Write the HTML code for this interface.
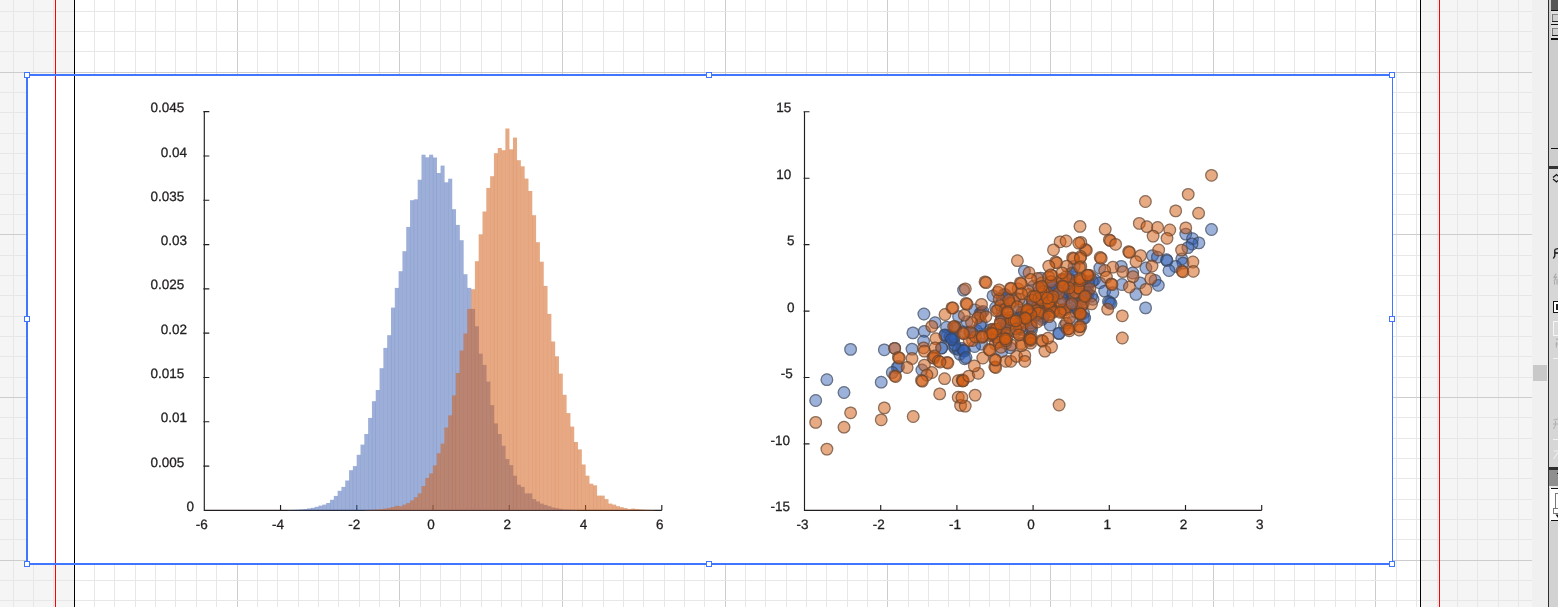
<!DOCTYPE html><html><head><meta charset="utf-8"><title>chart</title><style>
html,body{margin:0;padding:0;background:#fff;}body{width:1558px;height:607px;overflow:hidden;position:relative;font-family:"Liberation Sans",sans-serif;}
svg{position:absolute;left:0;top:0;display:block}text{font-family:"Liberation Sans",sans-serif;font-size:13.5px;fill:#231f20;stroke:#231f20;stroke-width:0.3px;text-rendering:geometricPrecision}
</style></head><body>
<svg width="1558" height="607" viewBox="0 0 1558 607">
<rect x="0" y="0" width="1558" height="607" fill="#ffffff"/>
<rect x="0" y="0" width="74" height="607" fill="#f5f5f5"/>
<rect x="1421" y="0" width="111" height="607" fill="#f5f5f5"/>
<g shape-rendering="crispEdges"><rect x="13" y="0" width="1" height="607" fill="#e7e7e7"/><rect x="33" y="0" width="1" height="607" fill="#e7e7e7"/><rect x="53" y="0" width="1" height="607" fill="#e7e7e7"/><rect x="74" y="0" width="1" height="607" fill="#cdcdcd"/><rect x="94" y="0" width="1" height="607" fill="#e7e7e7"/><rect x="114" y="0" width="1" height="607" fill="#e7e7e7"/><rect x="135" y="0" width="1" height="607" fill="#e7e7e7"/><rect x="155" y="0" width="1" height="607" fill="#e7e7e7"/><rect x="175" y="0" width="1" height="607" fill="#e7e7e7"/><rect x="196" y="0" width="1" height="607" fill="#e7e7e7"/><rect x="216" y="0" width="1" height="607" fill="#e7e7e7"/><rect x="237" y="0" width="1" height="607" fill="#cdcdcd"/><rect x="257" y="0" width="1" height="607" fill="#e7e7e7"/><rect x="277" y="0" width="1" height="607" fill="#e7e7e7"/><rect x="298" y="0" width="1" height="607" fill="#e7e7e7"/><rect x="318" y="0" width="1" height="607" fill="#e7e7e7"/><rect x="338" y="0" width="1" height="607" fill="#e7e7e7"/><rect x="359" y="0" width="1" height="607" fill="#e7e7e7"/><rect x="379" y="0" width="1" height="607" fill="#e7e7e7"/><rect x="399" y="0" width="1" height="607" fill="#cdcdcd"/><rect x="420" y="0" width="1" height="607" fill="#e7e7e7"/><rect x="440" y="0" width="1" height="607" fill="#e7e7e7"/><rect x="460" y="0" width="1" height="607" fill="#e7e7e7"/><rect x="481" y="0" width="1" height="607" fill="#e7e7e7"/><rect x="501" y="0" width="1" height="607" fill="#e7e7e7"/><rect x="521" y="0" width="1" height="607" fill="#e7e7e7"/><rect x="542" y="0" width="1" height="607" fill="#e7e7e7"/><rect x="562" y="0" width="1" height="607" fill="#cdcdcd"/><rect x="582" y="0" width="1" height="607" fill="#e7e7e7"/><rect x="603" y="0" width="1" height="607" fill="#e7e7e7"/><rect x="623" y="0" width="1" height="607" fill="#e7e7e7"/><rect x="643" y="0" width="1" height="607" fill="#e7e7e7"/><rect x="664" y="0" width="1" height="607" fill="#e7e7e7"/><rect x="684" y="0" width="1" height="607" fill="#e7e7e7"/><rect x="704" y="0" width="1" height="607" fill="#e7e7e7"/><rect x="725" y="0" width="1" height="607" fill="#cdcdcd"/><rect x="745" y="0" width="1" height="607" fill="#e7e7e7"/><rect x="765" y="0" width="1" height="607" fill="#e7e7e7"/><rect x="786" y="0" width="1" height="607" fill="#e7e7e7"/><rect x="806" y="0" width="1" height="607" fill="#e7e7e7"/><rect x="826" y="0" width="1" height="607" fill="#e7e7e7"/><rect x="847" y="0" width="1" height="607" fill="#e7e7e7"/><rect x="867" y="0" width="1" height="607" fill="#e7e7e7"/><rect x="887" y="0" width="1" height="607" fill="#cdcdcd"/><rect x="908" y="0" width="1" height="607" fill="#e7e7e7"/><rect x="928" y="0" width="1" height="607" fill="#e7e7e7"/><rect x="948" y="0" width="1" height="607" fill="#e7e7e7"/><rect x="969" y="0" width="1" height="607" fill="#e7e7e7"/><rect x="989" y="0" width="1" height="607" fill="#e7e7e7"/><rect x="1009" y="0" width="1" height="607" fill="#e7e7e7"/><rect x="1030" y="0" width="1" height="607" fill="#e7e7e7"/><rect x="1050" y="0" width="1" height="607" fill="#cdcdcd"/><rect x="1070" y="0" width="1" height="607" fill="#e7e7e7"/><rect x="1091" y="0" width="1" height="607" fill="#e7e7e7"/><rect x="1111" y="0" width="1" height="607" fill="#e7e7e7"/><rect x="1131" y="0" width="1" height="607" fill="#e7e7e7"/><rect x="1152" y="0" width="1" height="607" fill="#e7e7e7"/><rect x="1172" y="0" width="1" height="607" fill="#e7e7e7"/><rect x="1192" y="0" width="1" height="607" fill="#e7e7e7"/><rect x="1213" y="0" width="1" height="607" fill="#cdcdcd"/><rect x="1233" y="0" width="1" height="607" fill="#e7e7e7"/><rect x="1253" y="0" width="1" height="607" fill="#e7e7e7"/><rect x="1274" y="0" width="1" height="607" fill="#e7e7e7"/><rect x="1294" y="0" width="1" height="607" fill="#e7e7e7"/><rect x="1314" y="0" width="1" height="607" fill="#e7e7e7"/><rect x="1335" y="0" width="1" height="607" fill="#e7e7e7"/><rect x="1355" y="0" width="1" height="607" fill="#e7e7e7"/><rect x="1375" y="0" width="1" height="607" fill="#cdcdcd"/><rect x="1396" y="0" width="1" height="607" fill="#e7e7e7"/><rect x="1416" y="0" width="1" height="607" fill="#e7e7e7"/><rect x="1437" y="0" width="1" height="607" fill="#e7e7e7"/><rect x="1457" y="0" width="1" height="607" fill="#e7e7e7"/><rect x="1477" y="0" width="1" height="607" fill="#e7e7e7"/><rect x="1498" y="0" width="1" height="607" fill="#e7e7e7"/><rect x="1518" y="0" width="1" height="607" fill="#e7e7e7"/><rect x="0" y="11" width="1532" height="1" fill="#e7e7e7"/><rect x="0" y="31" width="1532" height="1" fill="#e7e7e7"/><rect x="0" y="51" width="1532" height="1" fill="#e7e7e7"/><rect x="0" y="72" width="1532" height="1" fill="#cdcdcd"/><rect x="0" y="92" width="1532" height="1" fill="#e7e7e7"/><rect x="0" y="112" width="1532" height="1" fill="#e7e7e7"/><rect x="0" y="133" width="1532" height="1" fill="#e7e7e7"/><rect x="0" y="153" width="1532" height="1" fill="#e7e7e7"/><rect x="0" y="173" width="1532" height="1" fill="#e7e7e7"/><rect x="0" y="194" width="1532" height="1" fill="#e7e7e7"/><rect x="0" y="214" width="1532" height="1" fill="#e7e7e7"/><rect x="0" y="234" width="1532" height="1" fill="#cdcdcd"/><rect x="0" y="255" width="1532" height="1" fill="#e7e7e7"/><rect x="0" y="275" width="1532" height="1" fill="#e7e7e7"/><rect x="0" y="295" width="1532" height="1" fill="#e7e7e7"/><rect x="0" y="316" width="1532" height="1" fill="#e7e7e7"/><rect x="0" y="336" width="1532" height="1" fill="#e7e7e7"/><rect x="0" y="356" width="1532" height="1" fill="#e7e7e7"/><rect x="0" y="377" width="1532" height="1" fill="#e7e7e7"/><rect x="0" y="397" width="1532" height="1" fill="#cdcdcd"/><rect x="0" y="417" width="1532" height="1" fill="#e7e7e7"/><rect x="0" y="438" width="1532" height="1" fill="#e7e7e7"/><rect x="0" y="458" width="1532" height="1" fill="#e7e7e7"/><rect x="0" y="478" width="1532" height="1" fill="#e7e7e7"/><rect x="0" y="499" width="1532" height="1" fill="#e7e7e7"/><rect x="0" y="519" width="1532" height="1" fill="#e7e7e7"/><rect x="0" y="539" width="1532" height="1" fill="#e7e7e7"/><rect x="0" y="560" width="1532" height="1" fill="#cdcdcd"/><rect x="0" y="580" width="1532" height="1" fill="#e7e7e7"/><rect x="0" y="600" width="1532" height="1" fill="#e7e7e7"/></g>
<rect x="26" y="74" width="1367" height="491" fill="#ffffff"/>
<g shape-rendering="crispEdges"><rect x="74" y="0" width="1" height="607" fill="#000"/><rect x="1420" y="0" width="1" height="607" fill="#000"/><rect x="55" y="0" width="1" height="607" fill="#ff0000"/><rect x="1439" y="0" width="1" height="607" fill="#ff0000"/></g>
<path d="M204.3 111.65V510.35H661.8" fill="none" stroke="#231f20" stroke-width="1.15"/><path d="M203.4 466.05h5.9M203.4 421.75h5.9M203.4 377.45h5.9M203.4 333.15h5.9M203.4 288.85h5.9M203.4 244.55h5.9M203.4 200.25h5.9M203.4 155.95h5.9M203.4 111.65h5.9M280.55 510.35v-5.3M356.8 510.35v-5.3M433.05 510.35v-5.3M509.3 510.35v-5.3M585.55 510.35v-5.3M661.8 510.35v-5.3" fill="none" stroke="#231f20" stroke-width="1.15"/>
<g fill="rgb(59,95,177)" fill-opacity="0.5"><rect x="288.06" y="510.03" width="4.05" height="0.32"/><rect x="291.87" y="509.9" width="4.05" height="0.45"/><rect x="295.68" y="509.71" width="4.05" height="0.64"/><rect x="299.49" y="509.44" width="4.05" height="0.91"/><rect x="303.31" y="509.07" width="4.05" height="1.28"/><rect x="307.12" y="508.4" width="4.05" height="1.95"/><rect x="310.93" y="507.8" width="4.05" height="2.55"/><rect x="314.74" y="506.8" width="4.05" height="3.55"/><rect x="318.56" y="505.6" width="4.05" height="4.75"/><rect x="322.37" y="504.6" width="4.05" height="5.75"/><rect x="326.18" y="503" width="4.05" height="7.35"/><rect x="329.99" y="499.8" width="4.05" height="10.55"/><rect x="333.81" y="495.9" width="4.05" height="14.45"/><rect x="337.62" y="490.8" width="4.05" height="19.55"/><rect x="341.43" y="486.9" width="4.05" height="23.45"/><rect x="345.24" y="480.5" width="4.05" height="29.85"/><rect x="349.06" y="470.2" width="4.05" height="40.15"/><rect x="352.87" y="466.1" width="4.05" height="44.25"/><rect x="356.68" y="454.8" width="4.05" height="55.55"/><rect x="360.49" y="444.6" width="4.05" height="65.75"/><rect x="364.31" y="434" width="4.05" height="76.35"/><rect x="368.12" y="417.9" width="4.05" height="92.45"/><rect x="371.93" y="401.2" width="4.05" height="109.15"/><rect x="375.74" y="390" width="4.05" height="120.35"/><rect x="379.56" y="368.2" width="4.05" height="142.15"/><rect x="383.37" y="347.9" width="4.05" height="162.45"/><rect x="387.18" y="335.2" width="4.05" height="175.15"/><rect x="390.99" y="307.6" width="4.05" height="202.75"/><rect x="394.81" y="287.9" width="4.05" height="222.45"/><rect x="398.62" y="271.2" width="4.05" height="239.15"/><rect x="402.43" y="251.2" width="4.05" height="259.15"/><rect x="406.24" y="226.9" width="4.05" height="283.45"/><rect x="410.06" y="200.2" width="4.05" height="310.15"/><rect x="413.87" y="199.3" width="4.05" height="311.05"/><rect x="417.68" y="179.7" width="4.05" height="330.65"/><rect x="421.49" y="154.7" width="4.05" height="355.65"/><rect x="425.31" y="157.3" width="4.05" height="353.05"/><rect x="429.12" y="154.7" width="4.05" height="355.65"/><rect x="432.93" y="157.5" width="4.05" height="352.85"/><rect x="436.74" y="173" width="4.05" height="337.35"/><rect x="440.56" y="165.6" width="4.05" height="344.75"/><rect x="444.37" y="182.3" width="4.05" height="328.05"/><rect x="448.18" y="178.7" width="4.05" height="331.65"/><rect x="451.99" y="209.2" width="4.05" height="301.15"/><rect x="455.81" y="224.9" width="4.05" height="285.45"/><rect x="459.62" y="240.2" width="4.05" height="270.15"/><rect x="463.43" y="274.2" width="4.05" height="236.15"/><rect x="467.24" y="287.9" width="4.05" height="222.45"/><rect x="471.06" y="308.9" width="4.05" height="201.45"/><rect x="474.87" y="326.3" width="4.05" height="184.05"/><rect x="478.68" y="353.7" width="4.05" height="156.65"/><rect x="482.49" y="364.9" width="4.05" height="145.45"/><rect x="486.31" y="381.6" width="4.05" height="128.75"/><rect x="490.12" y="405.1" width="4.05" height="105.25"/><rect x="493.93" y="423.4" width="4.05" height="86.95"/><rect x="497.74" y="434" width="4.05" height="76.35"/><rect x="501.56" y="445.8" width="4.05" height="64.55"/><rect x="505.37" y="459" width="4.05" height="51.35"/><rect x="509.18" y="465.1" width="4.05" height="45.25"/><rect x="512.99" y="475.7" width="4.05" height="34.65"/><rect x="516.8" y="484.7" width="4.05" height="25.65"/><rect x="520.62" y="486.9" width="4.05" height="23.45"/><rect x="524.43" y="493.4" width="4.05" height="16.95"/><rect x="528.24" y="493.4" width="4.05" height="16.95"/><rect x="532.05" y="499.1" width="4.05" height="11.25"/><rect x="535.87" y="501.4" width="4.05" height="8.95"/><rect x="539.68" y="503.6" width="4.05" height="6.75"/><rect x="543.49" y="504.9" width="4.05" height="5.45"/><rect x="547.3" y="506.2" width="4.05" height="4.15"/><rect x="551.12" y="507.5" width="4.05" height="2.85"/><rect x="554.93" y="508.2" width="4.05" height="2.15"/><rect x="558.74" y="508.8" width="4.05" height="1.55"/><rect x="562.55" y="509.44" width="4.05" height="0.91"/><rect x="566.37" y="509.7" width="4.05" height="0.65"/><rect x="570.18" y="509.9" width="4.05" height="0.45"/><rect x="573.99" y="510.03" width="4.05" height="0.32"/></g>
<g fill="rgb(210,98,30)" fill-opacity="0.545"><rect x="364.31" y="510.04" width="4.05" height="0.31"/><rect x="368.12" y="509.9" width="4.05" height="0.45"/><rect x="371.93" y="509.71" width="4.05" height="0.64"/><rect x="375.74" y="509.42" width="4.05" height="0.93"/><rect x="379.56" y="509.06" width="4.05" height="1.29"/><rect x="383.37" y="508.53" width="4.05" height="1.82"/><rect x="387.18" y="507.89" width="4.05" height="2.46"/><rect x="390.99" y="507.01" width="4.05" height="3.34"/><rect x="394.81" y="505.74" width="4.05" height="4.61"/><rect x="398.62" y="506.2" width="4.05" height="4.15"/><rect x="402.43" y="504.6" width="4.05" height="5.75"/><rect x="406.24" y="503" width="4.05" height="7.35"/><rect x="410.06" y="500.4" width="4.05" height="9.95"/><rect x="413.87" y="497.2" width="4.05" height="13.15"/><rect x="417.68" y="493.4" width="4.05" height="16.95"/><rect x="421.49" y="486" width="4.05" height="24.35"/><rect x="425.31" y="477.9" width="4.05" height="32.45"/><rect x="429.12" y="473.4" width="4.05" height="36.95"/><rect x="432.93" y="465.4" width="4.05" height="44.95"/><rect x="436.74" y="453.2" width="4.05" height="57.15"/><rect x="440.56" y="443.6" width="4.05" height="66.75"/><rect x="444.37" y="427.5" width="4.05" height="82.85"/><rect x="448.18" y="415.3" width="4.05" height="95.05"/><rect x="451.99" y="395.4" width="4.05" height="114.95"/><rect x="455.81" y="373" width="4.05" height="137.35"/><rect x="459.62" y="350.5" width="4.05" height="159.85"/><rect x="463.43" y="333.5" width="4.05" height="176.85"/><rect x="467.24" y="308.9" width="4.05" height="201.45"/><rect x="471.06" y="289.2" width="4.05" height="221.15"/><rect x="474.87" y="261.2" width="4.05" height="249.15"/><rect x="478.68" y="234.3" width="4.05" height="276.05"/><rect x="482.49" y="211.5" width="4.05" height="298.85"/><rect x="486.31" y="187.9" width="4.05" height="322.45"/><rect x="490.12" y="176.2" width="4.05" height="334.15"/><rect x="493.93" y="153.2" width="4.05" height="357.15"/><rect x="497.74" y="148" width="4.05" height="362.35"/><rect x="501.56" y="150.2" width="4.05" height="360.15"/><rect x="505.37" y="128.5" width="4.05" height="381.85"/><rect x="509.18" y="149.3" width="4.05" height="361.05"/><rect x="512.99" y="137.6" width="4.05" height="372.75"/><rect x="516.8" y="160.2" width="4.05" height="350.15"/><rect x="520.62" y="166.3" width="4.05" height="344.05"/><rect x="524.43" y="178.6" width="4.05" height="331.75"/><rect x="528.24" y="191" width="4.05" height="319.35"/><rect x="532.05" y="215.2" width="4.05" height="295.15"/><rect x="535.87" y="242.2" width="4.05" height="268.15"/><rect x="539.68" y="261.7" width="4.05" height="248.65"/><rect x="543.49" y="285.9" width="4.05" height="224.45"/><rect x="547.3" y="313.9" width="4.05" height="196.45"/><rect x="551.12" y="341.5" width="4.05" height="168.85"/><rect x="554.93" y="356.3" width="4.05" height="154.05"/><rect x="558.74" y="373.6" width="4.05" height="136.75"/><rect x="562.55" y="394.8" width="4.05" height="115.55"/><rect x="566.37" y="413.1" width="4.05" height="97.25"/><rect x="570.18" y="426.6" width="4.05" height="83.75"/><rect x="573.99" y="442" width="4.05" height="68.35"/><rect x="577.8" y="449.4" width="4.05" height="60.95"/><rect x="581.62" y="464.5" width="4.05" height="45.85"/><rect x="585.43" y="475.7" width="4.05" height="34.65"/><rect x="589.24" y="483.7" width="4.05" height="26.65"/><rect x="593.05" y="485.3" width="4.05" height="25.05"/><rect x="596.87" y="495.6" width="4.05" height="14.75"/><rect x="600.68" y="495.6" width="4.05" height="14.75"/><rect x="604.49" y="499.1" width="4.05" height="11.25"/><rect x="608.3" y="503.6" width="4.05" height="6.75"/><rect x="612.12" y="504.6" width="4.05" height="5.75"/><rect x="615.93" y="506.2" width="4.05" height="4.15"/><rect x="619.74" y="507.2" width="4.05" height="3.15"/><rect x="623.55" y="508.1" width="4.05" height="2.25"/><rect x="627.37" y="509.1" width="4.05" height="1.25"/><rect x="631.18" y="508.56" width="4.05" height="1.79"/><rect x="634.99" y="509.04" width="4.05" height="1.31"/><rect x="638.8" y="509.42" width="4.05" height="0.93"/><rect x="642.62" y="509.71" width="4.05" height="0.64"/><rect x="646.43" y="509.9" width="4.05" height="0.45"/><rect x="650.24" y="510.04" width="4.05" height="0.31"/></g>
<g style="mix-blend-mode:multiply"><text x="186.4" y="510.95">0</text><text x="150.5" y="466.65">0.005</text><text x="160.8" y="422.35">0.01</text><text x="150.5" y="378.05">0.015</text><text x="160.8" y="333.75">0.02</text><text x="150.5" y="289.45">0.025</text><text x="160.8" y="245.15">0.03</text><text x="150.5" y="200.85">0.035</text><text x="160.8" y="156.55">0.04</text><text x="150.5" y="112.25">0.045</text><text x="201.7" y="528.6" text-anchor="middle">-6</text><text x="277.95" y="528.6" text-anchor="middle">-4</text><text x="354.2" y="528.6" text-anchor="middle">-2</text><text x="430.95" y="528.6" text-anchor="middle">0</text><text x="507.2" y="528.6" text-anchor="middle">2</text><text x="583.45" y="528.6" text-anchor="middle">4</text><text x="659.7" y="528.6" text-anchor="middle">6</text></g>
<defs><g id="mb"><circle r="6.4" fill="rgb(48,94,180)" fill-opacity="0.48"/><circle r="5.78" fill="none" stroke="#3c3c3c" stroke-opacity="0.55" stroke-width="1.25"/></g></defs><use href="#mb" x="981.18" y="323.15"/><use href="#mb" x="1082.77" y="299.02"/><use href="#mb" x="976.37" y="330.42"/><use href="#mb" x="1059.1" y="286.92"/><use href="#mb" x="981.55" y="344.11"/><use href="#mb" x="1069.53" y="291.16"/><use href="#mb" x="1032.56" y="313.49"/><use href="#mb" x="1001.28" y="335.29"/><use href="#mb" x="1041.59" y="305.05"/><use href="#mb" x="1021.43" y="314.69"/><use href="#mb" x="1049.72" y="295.31"/><use href="#mb" x="1087.43" y="288.27"/><use href="#mb" x="955.28" y="328.08"/><use href="#mb" x="972.22" y="333.2"/><use href="#mb" x="969.74" y="331.87"/><use href="#mb" x="1001.57" y="318.12"/><use href="#mb" x="1075.78" y="311.68"/><use href="#mb" x="1024.03" y="304.63"/><use href="#mb" x="1032.97" y="305.21"/><use href="#mb" x="1041.95" y="319.45"/><use href="#mb" x="1063.02" y="309.66"/><use href="#mb" x="1068.62" y="297.43"/><use href="#mb" x="1080.82" y="300.82"/><use href="#mb" x="1082.94" y="294.04"/><use href="#mb" x="1043.68" y="316"/><use href="#mb" x="1072.37" y="290.25"/><use href="#mb" x="1062.61" y="293.15"/><use href="#mb" x="1050.17" y="301.26"/><use href="#mb" x="1045.55" y="313.05"/><use href="#mb" x="990.77" y="329.58"/><use href="#mb" x="1064.26" y="279.91"/><use href="#mb" x="1081.95" y="279.53"/><use href="#mb" x="1072.8" y="287.19"/><use href="#mb" x="1045.61" y="295.74"/><use href="#mb" x="1005.45" y="294.72"/><use href="#mb" x="1048.42" y="292.25"/><use href="#mb" x="1077.22" y="308.81"/><use href="#mb" x="1045.32" y="296.08"/><use href="#mb" x="1043.02" y="317.54"/><use href="#mb" x="1032.09" y="305.47"/><use href="#mb" x="1088.3" y="281.66"/><use href="#mb" x="1039.94" y="290.35"/><use href="#mb" x="1002.39" y="310.52"/><use href="#mb" x="1088.13" y="294.36"/><use href="#mb" x="955.24" y="348.39"/><use href="#mb" x="1048.07" y="297.96"/><use href="#mb" x="1037.31" y="300.18"/><use href="#mb" x="1030" y="340.83"/><use href="#mb" x="1074.13" y="266.36"/><use href="#mb" x="1083.19" y="303.97"/><use href="#mb" x="1018.34" y="312.18"/><use href="#mb" x="1042.42" y="286.93"/><use href="#mb" x="1033.47" y="286.21"/><use href="#mb" x="1005.86" y="325.32"/><use href="#mb" x="1070.22" y="278.93"/><use href="#mb" x="1067.15" y="294.17"/><use href="#mb" x="953.82" y="346.44"/><use href="#mb" x="1009.26" y="324.87"/><use href="#mb" x="1064.06" y="303.28"/><use href="#mb" x="1073.27" y="294.81"/><use href="#mb" x="1021.98" y="312.22"/><use href="#mb" x="1056.84" y="290.74"/><use href="#mb" x="1015.35" y="318.95"/><use href="#mb" x="974.79" y="309.9"/><use href="#mb" x="1015.31" y="331.63"/><use href="#mb" x="1044.99" y="303.09"/><use href="#mb" x="1001.6" y="351.66"/><use href="#mb" x="963.54" y="331.78"/><use href="#mb" x="963.57" y="290.12"/><use href="#mb" x="1088.44" y="283.34"/><use href="#mb" x="1029.2" y="338.2"/><use href="#mb" x="1031.43" y="330.04"/><use href="#mb" x="1064.51" y="325.89"/><use href="#mb" x="995.66" y="307.48"/><use href="#mb" x="966.99" y="321.76"/><use href="#mb" x="1076.27" y="307.25"/><use href="#mb" x="1005.43" y="328.23"/><use href="#mb" x="982.76" y="335.95"/><use href="#mb" x="1094.47" y="279.76"/><use href="#mb" x="1031.02" y="322.96"/><use href="#mb" x="1031.55" y="326.95"/><use href="#mb" x="955.85" y="327.94"/><use href="#mb" x="1004.33" y="318.76"/><use href="#mb" x="1020.09" y="328.4"/><use href="#mb" x="959.73" y="354.1"/><use href="#mb" x="1036.96" y="306.59"/><use href="#mb" x="1015.49" y="297.93"/><use href="#mb" x="1045.41" y="298.19"/><use href="#mb" x="1093" y="299.33"/><use href="#mb" x="1005.7" y="302.83"/><use href="#mb" x="1052.67" y="290.31"/><use href="#mb" x="1072.18" y="322.49"/><use href="#mb" x="1070.14" y="305.43"/><use href="#mb" x="1002.6" y="325.95"/><use href="#mb" x="1072.38" y="284.99"/><use href="#mb" x="1083.51" y="313.23"/><use href="#mb" x="1010.18" y="347.8"/><use href="#mb" x="1032.55" y="302.45"/><use href="#mb" x="1002.24" y="317.49"/><use href="#mb" x="1047.81" y="292"/><use href="#mb" x="999.61" y="331.96"/><use href="#mb" x="1002.27" y="298.45"/><use href="#mb" x="1087.14" y="292.58"/><use href="#mb" x="1047.54" y="303.36"/><use href="#mb" x="1046.51" y="307.8"/><use href="#mb" x="1021.92" y="329.59"/><use href="#mb" x="1007.83" y="297.8"/><use href="#mb" x="1061.78" y="299.03"/><use href="#mb" x="1027.38" y="311.04"/><use href="#mb" x="1053.39" y="310.92"/><use href="#mb" x="1211.5" y="229.5"/><use href="#mb" x="1185.8" y="234.1"/><use href="#mb" x="1192.5" y="238.7"/><use href="#mb" x="1198.9" y="242.9"/><use href="#mb" x="1192" y="244"/><use href="#mb" x="1187.9" y="247.6"/><use href="#mb" x="1152.5" y="255.6"/><use href="#mb" x="1157.4" y="257.2"/><use href="#mb" x="1166.5" y="259.7"/><use href="#mb" x="1181.8" y="258.8"/><use href="#mb" x="1167" y="260.6"/><use href="#mb" x="1183" y="263.1"/><use href="#mb" x="1175.6" y="266.4"/><use href="#mb" x="1169" y="270.5"/><use href="#mb" x="1145.9" y="268"/><use href="#mb" x="1121.2" y="266.4"/><use href="#mb" x="1099.8" y="268"/><use href="#mb" x="1132.7" y="273"/><use href="#mb" x="1140.1" y="282.8"/><use href="#mb" x="1155" y="280.4"/><use href="#mb" x="1158.3" y="285.3"/><use href="#mb" x="1122" y="284.5"/><use href="#mb" x="1099.8" y="282.8"/><use href="#mb" x="1104.7" y="291.1"/><use href="#mb" x="1112.9" y="292.7"/><use href="#mb" x="1136" y="294.4"/><use href="#mb" x="1109.7" y="302.6"/><use href="#mb" x="1108.5" y="301.5"/><use href="#mb" x="1111" y="303.5"/><use href="#mb" x="1145.6" y="307.9"/><use href="#mb" x="1092.4" y="281.2"/><use href="#mb" x="1091.5" y="296"/><use href="#mb" x="1083.3" y="318.3"/><use href="#mb" x="1024.4" y="271.1"/><use href="#mb" x="1040.8" y="278.1"/><use href="#mb" x="1071.5" y="272.8"/><use href="#mb" x="1052.1" y="284.8"/><use href="#mb" x="1053.5" y="286"/><use href="#mb" x="1069.5" y="279.4"/><use href="#mb" x="923.9" y="314"/><use href="#mb" x="935.1" y="322.7"/><use href="#mb" x="912.9" y="332.9"/><use href="#mb" x="924.4" y="331.3"/><use href="#mb" x="946.6" y="327.2"/><use href="#mb" x="850.6" y="349.4"/><use href="#mb" x="884.3" y="349.8"/><use href="#mb" x="894.7" y="348.3"/><use href="#mb" x="912" y="349.1"/><use href="#mb" x="923.6" y="341.2"/><use href="#mb" x="945" y="335.4"/><use href="#mb" x="946.5" y="336.5"/><use href="#mb" x="952.4" y="338.7"/><use href="#mb" x="953.5" y="340"/><use href="#mb" x="941.7" y="347.8"/><use href="#mb" x="897.2" y="367.5"/><use href="#mb" x="898.5" y="366.5"/><use href="#mb" x="892.3" y="372.5"/><use href="#mb" x="826.9" y="379.7"/><use href="#mb" x="881.2" y="382.2"/><use href="#mb" x="844" y="392.5"/><use href="#mb" x="815.7" y="400.5"/><use href="#mb" x="921.9" y="370"/><use href="#mb" x="958.2" y="349.4"/><use href="#mb" x="1059.1" y="333.6"/><use href="#mb" x="963.1" y="349.8"/><use href="#mb" x="962" y="348.5"/><use href="#mb" x="964.5" y="351"/><use href="#mb" x="963.5" y="350.5"/><use href="#mb" x="964.7" y="358.8"/><use href="#mb" x="966" y="357.5"/><use href="#mb" x="974.6" y="346.5"/><use href="#mb" x="951.5" y="338.2"/><use href="#mb" x="950" y="337"/><use href="#mb" x="944.9" y="334.9"/><use href="#mb" x="954.8" y="344.8"/><use href="#mb" x="941.6" y="348.1"/><use href="#mb" x="1005.9" y="343.2"/><use href="#mb" x="997.7" y="339.9"/><use href="#mb" x="993" y="295.8"/><use href="#mb" x="1004.2" y="294.4"/><use href="#mb" x="981.5" y="312.3"/><use href="#mb" x="980" y="313.5"/><use href="#mb" x="983" y="311.5"/><use href="#mb" x="958.6" y="316.6"/><use href="#mb" x="980.1" y="325.2"/><use href="#mb" x="1036" y="315.2"/><use href="#mb" x="1050.3" y="325.2"/><use href="#mb" x="1058.9" y="333.1"/><use href="#mb" x="1084.7" y="318"/><use href="#mb" x="1071.8" y="273.6"/><use href="#mb" x="1051.7" y="285.1"/><use href="#mb" x="1044.6" y="293.7"/><use href="#mb" x="954.3" y="336.7"/><use href="#mb" x="951.4" y="339.5"/>
<defs><g id="mo"><circle r="6.4" fill="rgb(210,92,18)" fill-opacity="0.52"/><circle r="5.78" fill="none" stroke="#3c3c3c" stroke-opacity="0.55" stroke-width="1.25"/></g></defs><use href="#mo" x="1040.89" y="299.31"/><use href="#mo" x="1004.84" y="334.6"/><use href="#mo" x="995.29" y="343.98"/><use href="#mo" x="1067.35" y="329.13"/><use href="#mo" x="1023.22" y="322.36"/><use href="#mo" x="1009.75" y="317.39"/><use href="#mo" x="1076.43" y="284.08"/><use href="#mo" x="1028.05" y="319.95"/><use href="#mo" x="1028.48" y="294.41"/><use href="#mo" x="1018.37" y="333.71"/><use href="#mo" x="980.37" y="315.6"/><use href="#mo" x="1046.95" y="304.17"/><use href="#mo" x="1062.13" y="279.27"/><use href="#mo" x="998.02" y="309.88"/><use href="#mo" x="1082.85" y="302.49"/><use href="#mo" x="1073.4" y="293.24"/><use href="#mo" x="1018.39" y="323.81"/><use href="#mo" x="1021.04" y="343.51"/><use href="#mo" x="997.57" y="292.23"/><use href="#mo" x="1055.18" y="308.18"/><use href="#mo" x="1069.1" y="280.15"/><use href="#mo" x="1024.27" y="311.37"/><use href="#mo" x="1038.44" y="310.16"/><use href="#mo" x="1040.64" y="313.15"/><use href="#mo" x="999.2" y="299.17"/><use href="#mo" x="1047.14" y="292.85"/><use href="#mo" x="972.55" y="340.56"/><use href="#mo" x="1064.65" y="312.74"/><use href="#mo" x="1075.28" y="292.39"/><use href="#mo" x="1048.76" y="301.53"/><use href="#mo" x="1041.74" y="282.88"/><use href="#mo" x="1018.01" y="288.87"/><use href="#mo" x="1003.57" y="337.61"/><use href="#mo" x="1060.53" y="311.08"/><use href="#mo" x="1019.27" y="299.14"/><use href="#mo" x="1079.58" y="313.23"/><use href="#mo" x="1078.99" y="288.04"/><use href="#mo" x="1010.49" y="323.57"/><use href="#mo" x="989.42" y="333.68"/><use href="#mo" x="1026.26" y="313.1"/><use href="#mo" x="1078.51" y="288.12"/><use href="#mo" x="977.79" y="317.7"/><use href="#mo" x="992.48" y="335.17"/><use href="#mo" x="1028.3" y="315.37"/><use href="#mo" x="995.13" y="330.53"/><use href="#mo" x="1028.2" y="291.04"/><use href="#mo" x="1061.81" y="280.05"/><use href="#mo" x="1066.29" y="323.15"/><use href="#mo" x="1000.43" y="321.59"/><use href="#mo" x="1052.43" y="275.97"/><use href="#mo" x="1051.31" y="301.98"/><use href="#mo" x="1034.9" y="309.82"/><use href="#mo" x="1042.82" y="291.12"/><use href="#mo" x="1020.44" y="327.13"/><use href="#mo" x="1000.79" y="305.32"/><use href="#mo" x="1066.09" y="276.73"/><use href="#mo" x="1033.31" y="296.09"/><use href="#mo" x="993.26" y="330.72"/><use href="#mo" x="1005.41" y="309.14"/><use href="#mo" x="1011.27" y="320.04"/><use href="#mo" x="1048.67" y="276.86"/><use href="#mo" x="1003.19" y="337.92"/><use href="#mo" x="1064.58" y="309.7"/><use href="#mo" x="1050.66" y="307.83"/><use href="#mo" x="1029.37" y="339.35"/><use href="#mo" x="1060.62" y="301.64"/><use href="#mo" x="999.12" y="289.89"/><use href="#mo" x="1048.96" y="305"/><use href="#mo" x="1037.51" y="278.31"/><use href="#mo" x="1032.37" y="300.1"/><use href="#mo" x="1053.11" y="312.24"/><use href="#mo" x="1038.32" y="312.94"/><use href="#mo" x="985.89" y="316.58"/><use href="#mo" x="1058.79" y="293.01"/><use href="#mo" x="1051.92" y="299.34"/><use href="#mo" x="969.16" y="340.51"/><use href="#mo" x="975.37" y="336.82"/><use href="#mo" x="1038.86" y="298.43"/><use href="#mo" x="1041.68" y="300.05"/><use href="#mo" x="989.91" y="335.4"/><use href="#mo" x="1013.89" y="320.84"/><use href="#mo" x="1043.7" y="291.59"/><use href="#mo" x="1048.7" y="302.64"/><use href="#mo" x="970.33" y="332.25"/><use href="#mo" x="1013.54" y="300.6"/><use href="#mo" x="993.13" y="329.1"/><use href="#mo" x="1028.38" y="311.22"/><use href="#mo" x="1050.97" y="281.61"/><use href="#mo" x="1030.8" y="325.28"/><use href="#mo" x="1041.15" y="293.77"/><use href="#mo" x="1026.7" y="310.69"/><use href="#mo" x="1006.7" y="332.84"/><use href="#mo" x="996.77" y="337.1"/><use href="#mo" x="1029.04" y="272.77"/><use href="#mo" x="1031.09" y="337.04"/><use href="#mo" x="1048.77" y="314.87"/><use href="#mo" x="1011.26" y="344.93"/><use href="#mo" x="1037.12" y="322.06"/><use href="#mo" x="1030.9" y="314.59"/><use href="#mo" x="1010.02" y="303.22"/><use href="#mo" x="1069.09" y="288.02"/><use href="#mo" x="999.05" y="342.2"/><use href="#mo" x="1015.97" y="328.91"/><use href="#mo" x="1006.79" y="338.7"/><use href="#mo" x="996.31" y="329.21"/><use href="#mo" x="1211.5" y="175.3"/><use href="#mo" x="1188.2" y="194.3"/><use href="#mo" x="1145.4" y="201.5"/><use href="#mo" x="1175.7" y="210.9"/><use href="#mo" x="1198.6" y="213.2"/><use href="#mo" x="1139.3" y="223.4"/><use href="#mo" x="1146.9" y="226.7"/><use href="#mo" x="1157.6" y="227.5"/><use href="#mo" x="1169.8" y="230"/><use href="#mo" x="1185.8" y="227.9"/><use href="#mo" x="1153.1" y="236.1"/><use href="#mo" x="1167" y="238.3"/><use href="#mo" x="1105.2" y="229.2"/><use href="#mo" x="1080" y="226.4"/><use href="#mo" x="1109.3" y="239.8"/><use href="#mo" x="1110.4" y="240.7"/><use href="#mo" x="1115.6" y="244.3"/><use href="#mo" x="1158.7" y="250"/><use href="#mo" x="1181.6" y="250.1"/><use href="#mo" x="1128.7" y="251.6"/><use href="#mo" x="1129.5" y="252.4"/><use href="#mo" x="1085.4" y="249.5"/><use href="#mo" x="1086.3" y="250.3"/><use href="#mo" x="1080.8" y="242.4"/><use href="#mo" x="1140.6" y="255.6"/><use href="#mo" x="1100.2" y="257.5"/><use href="#mo" x="1101.2" y="258.3"/><use href="#mo" x="1136" y="261.7"/><use href="#mo" x="1192.9" y="262"/><use href="#mo" x="1152" y="266"/><use href="#mo" x="1112.9" y="267.2"/><use href="#mo" x="1104.7" y="270.5"/><use href="#mo" x="1122.8" y="271.6"/><use href="#mo" x="1182" y="271"/><use href="#mo" x="1183" y="271.8"/><use href="#mo" x="1193.3" y="271.3"/><use href="#mo" x="1133" y="276.6"/><use href="#mo" x="1150.8" y="278.7"/><use href="#mo" x="1106.4" y="277.1"/><use href="#mo" x="1089.6" y="275.4"/><use href="#mo" x="1111.2" y="283.8"/><use href="#mo" x="1112" y="284.6"/><use href="#mo" x="1129.4" y="287"/><use href="#mo" x="1145.9" y="289.4"/><use href="#mo" x="1089.9" y="288.6"/><use href="#mo" x="1085.8" y="296"/><use href="#mo" x="1091.5" y="303.9"/><use href="#mo" x="1107.7" y="309.2"/><use href="#mo" x="1122.3" y="315.8"/><use href="#mo" x="1122.3" y="338"/><use href="#mo" x="1080.8" y="256.5"/><use href="#mo" x="1080.8" y="266.4"/><use href="#mo" x="1081.6" y="279.5"/><use href="#mo" x="1081.6" y="305.9"/><use href="#mo" x="1080.8" y="314.1"/><use href="#mo" x="1080.8" y="326.5"/><use href="#mo" x="1060.1" y="241.8"/><use href="#mo" x="1066.1" y="241"/><use href="#mo" x="1078.8" y="243.1"/><use href="#mo" x="1053.5" y="249.8"/><use href="#mo" x="1017.4" y="260.7"/><use href="#mo" x="1072.7" y="257.8"/><use href="#mo" x="1073.7" y="258.6"/><use href="#mo" x="1080.2" y="258.1"/><use href="#mo" x="1055.6" y="262"/><use href="#mo" x="1056.6" y="262.8"/><use href="#mo" x="1048.8" y="266.1"/><use href="#mo" x="1066.8" y="266.1"/><use href="#mo" x="1079.5" y="267.4"/><use href="#mo" x="1050.8" y="274.8"/><use href="#mo" x="1062.1" y="272.8"/><use href="#mo" x="985" y="281.8"/><use href="#mo" x="986" y="282.6"/><use href="#mo" x="965.3" y="288.8"/><use href="#mo" x="1030.8" y="279.4"/><use href="#mo" x="1020.3" y="282.9"/><use href="#mo" x="1021.2" y="283.6"/><use href="#mo" x="1010.7" y="288.1"/><use href="#mo" x="1038.8" y="287.4"/><use href="#mo" x="1062.4" y="285.8"/><use href="#mo" x="1063.3" y="286.5"/><use href="#mo" x="1080.2" y="280.8"/><use href="#mo" x="1088.2" y="275.4"/><use href="#mo" x="951.9" y="307.9"/><use href="#mo" x="945" y="314.5"/><use href="#mo" x="931.8" y="326.4"/><use href="#mo" x="935.9" y="338.7"/><use href="#mo" x="954.9" y="326.4"/><use href="#mo" x="894.7" y="348.3"/><use href="#mo" x="898.4" y="357.4"/><use href="#mo" x="899.3" y="358.1"/><use href="#mo" x="912" y="358.5"/><use href="#mo" x="907.1" y="367.5"/><use href="#mo" x="894.7" y="375.8"/><use href="#mo" x="895.6" y="376.5"/><use href="#mo" x="923.6" y="347.8"/><use href="#mo" x="924.4" y="351.1"/><use href="#mo" x="935.1" y="347.8"/><use href="#mo" x="933" y="357.4"/><use href="#mo" x="933.9" y="358.1"/><use href="#mo" x="934.5" y="356"/><use href="#mo" x="938.4" y="361"/><use href="#mo" x="947" y="362.3"/><use href="#mo" x="947.9" y="363"/><use href="#mo" x="924.4" y="365.1"/><use href="#mo" x="931.8" y="372.5"/><use href="#mo" x="926.9" y="375"/><use href="#mo" x="921.5" y="380.4"/><use href="#mo" x="922.4" y="381.1"/><use href="#mo" x="944.6" y="378.7"/><use href="#mo" x="939.7" y="393.9"/><use href="#mo" x="958.2" y="380.7"/><use href="#mo" x="958.2" y="397.2"/><use href="#mo" x="850.6" y="412.8"/><use href="#mo" x="884.3" y="407.9"/><use href="#mo" x="881.2" y="419.8"/><use href="#mo" x="913.2" y="416.5"/><use href="#mo" x="815.7" y="422.4"/><use href="#mo" x="844" y="427.2"/><use href="#mo" x="826.9" y="449.1"/><use href="#mo" x="960.6" y="405.4"/><use href="#mo" x="1059.1" y="405"/><use href="#mo" x="965.2" y="406.1"/><use href="#mo" x="961.9" y="397.5"/><use href="#mo" x="975.1" y="395.1"/><use href="#mo" x="962.2" y="379.8"/><use href="#mo" x="963.2" y="380.6"/><use href="#mo" x="962.7" y="381"/><use href="#mo" x="968.8" y="376.1"/><use href="#mo" x="978.2" y="373.3"/><use href="#mo" x="974.3" y="365.9"/><use href="#mo" x="982.8" y="358"/><use href="#mo" x="994.8" y="366.8"/><use href="#mo" x="995.7" y="367.5"/><use href="#mo" x="994.8" y="359.4"/><use href="#mo" x="995.7" y="360.1"/><use href="#mo" x="1005.9" y="361.3"/><use href="#mo" x="1010.8" y="361.3"/><use href="#mo" x="1016.6" y="356.4"/><use href="#mo" x="1024.8" y="355.5"/><use href="#mo" x="1024.8" y="361.3"/><use href="#mo" x="1021.5" y="345.7"/><use href="#mo" x="1030.6" y="343.2"/><use href="#mo" x="1030" y="338.8"/><use href="#mo" x="1030.8" y="339.5"/><use href="#mo" x="1041.7" y="340.4"/><use href="#mo" x="1042.6" y="341.1"/><use href="#mo" x="1044.9" y="351.1"/><use href="#mo" x="1051.5" y="347"/><use href="#mo" x="1047.9" y="338.2"/><use href="#mo" x="989" y="349.5"/><use href="#mo" x="989.9" y="350.2"/><use href="#mo" x="1001" y="347.3"/><use href="#mo" x="1005.9" y="340.7"/><use href="#mo" x="982" y="337.4"/><use href="#mo" x="991.5" y="333"/><use href="#mo" x="992.4" y="333.7"/><use href="#mo" x="962.7" y="333"/><use href="#mo" x="963.6" y="333.7"/><use href="#mo" x="1019.1" y="334.9"/><use href="#mo" x="940" y="362"/><use href="#mo" x="1069.3" y="330.8"/><use href="#mo" x="1079.2" y="330"/><use href="#mo" x="966.1" y="303.4"/><use href="#mo" x="967" y="304.1"/><use href="#mo" x="952.9" y="308"/><use href="#mo" x="981.5" y="304.4"/><use href="#mo" x="1010.9" y="288.7"/><use href="#mo" x="1021.6" y="293.7"/><use href="#mo" x="1035.2" y="296.5"/><use href="#mo" x="1008.7" y="300.1"/><use href="#mo" x="996.6" y="310.9"/><use href="#mo" x="1006.9" y="312"/><use href="#mo" x="1007.8" y="312.7"/><use href="#mo" x="1017.3" y="306.6"/><use href="#mo" x="1027.4" y="309.4"/><use href="#mo" x="1024.8" y="317.7"/><use href="#mo" x="1025.7" y="318.4"/><use href="#mo" x="1015.9" y="320.9"/><use href="#mo" x="1000.1" y="323.8"/><use href="#mo" x="971.5" y="322.3"/><use href="#mo" x="953.6" y="326.6"/><use href="#mo" x="964.3" y="315.2"/><use href="#mo" x="982.2" y="336.7"/><use href="#mo" x="1005.2" y="338.8"/><use href="#mo" x="1048.9" y="316.6"/><use href="#mo" x="1060.3" y="312.3"/><use href="#mo" x="1053.2" y="296.5"/><use href="#mo" x="1071.8" y="303.7"/><use href="#mo" x="1084.7" y="296.5"/><use href="#mo" x="1080.4" y="313.7"/><use href="#mo" x="1069.6" y="318"/><use href="#mo" x="1068.9" y="328.8"/><use href="#mo" x="1079.6" y="326.6"/><use href="#mo" x="1079.7" y="278.6"/><use href="#mo" x="1087.5" y="275.1"/><use href="#mo" x="1041.7" y="286.5"/><use href="#mo" x="1047.4" y="298"/>
<path d="M804.5 111.77V510.35H1261.7" fill="none" stroke="#231f20" stroke-width="1.15"/><path d="M803.6 443.92h5.9M880.7 510.35v-5.3M803.6 377.49h5.9M956.9 510.35v-5.3M803.6 311.06h5.9M1033.1 510.35v-5.3M803.6 244.63h5.9M1109.3 510.35v-5.3M803.6 178.2h5.9M1185.5 510.35v-5.3M803.6 111.77h5.9M1261.7 510.35v-5.3" fill="none" stroke="#231f20" stroke-width="1.15"/>
<g style="mix-blend-mode:multiply"><text x="789.95" y="510.95" text-anchor="end">-15</text><text x="789.95" y="444.52" text-anchor="end">-10</text><text x="792.75" y="378.09" text-anchor="end">-5</text><text x="794.6" y="311.66" text-anchor="end">0</text><text x="794.6" y="245.23" text-anchor="end">5</text><text x="791.3" y="178.8" text-anchor="end">10</text><text x="791.3" y="112.37" text-anchor="end">15</text><text x="802.5" y="528.6" text-anchor="middle">-3</text><text x="878.7" y="528.6" text-anchor="middle">-2</text><text x="954.9" y="528.6" text-anchor="middle">-1</text><text x="1031.1" y="528.6" text-anchor="middle">0</text><text x="1107.3" y="528.6" text-anchor="middle">1</text><text x="1183.5" y="528.6" text-anchor="middle">2</text><text x="1259.7" y="528.6" text-anchor="middle">3</text></g>
<g shape-rendering="crispEdges" fill="#4076ff"><rect x="26" y="74" width="1367" height="2"/><rect x="26" y="563" width="1367" height="2"/><rect x="26" y="74" width="2" height="491"/><rect x="1392" y="74" width="1" height="491"/></g>
<g shape-rendering="crispEdges"><rect x="24.5" y="72.5" width="5" height="5" fill="#fff" stroke="#4076ff" stroke-width="1"/><rect x="706.5" y="72.5" width="5" height="5" fill="#fff" stroke="#4076ff" stroke-width="1"/><rect x="1389.5" y="72.5" width="5" height="5" fill="#fff" stroke="#4076ff" stroke-width="1"/><rect x="24.5" y="316.5" width="5" height="5" fill="#fff" stroke="#4076ff" stroke-width="1"/><rect x="1389.5" y="316.5" width="5" height="5" fill="#fff" stroke="#4076ff" stroke-width="1"/><rect x="24.5" y="561.5" width="5" height="5" fill="#fff" stroke="#4076ff" stroke-width="1"/><rect x="706.5" y="561.5" width="5" height="5" fill="#fff" stroke="#4076ff" stroke-width="1"/><rect x="1389.5" y="561.5" width="5" height="5" fill="#fff" stroke="#4076ff" stroke-width="1"/></g>
<g shape-rendering="crispEdges"><rect x="1532" y="0" width="16" height="607" fill="#f0f0f0"/><rect x="1533" y="365" width="14" height="16" fill="#c9c9c9"/><rect x="1548" y="0" width="1" height="607" fill="#2e2e2e"/><rect x="1549" y="0" width="9" height="607" fill="#cfcfcf"/><rect x="1551" y="0" width="7" height="11" fill="#565656"/><rect x="1551" y="10" width="7" height="1" fill="#111"/><rect x="1551" y="11" width="7" height="13" fill="#e0e0e0"/><rect x="1552" y="14" width="6" height="8" fill="#cfcfcf"/><rect x="1552" y="14" width="1" height="8" fill="#777"/><rect x="1553" y="14" width="5" height="1" fill="#888"/><rect x="1552" y="21" width="6" height="1" fill="#222"/><rect x="1551" y="24" width="7" height="1" fill="#111"/><rect x="1551" y="25" width="7" height="14" fill="#e0e0e0"/><rect x="1552" y="28" width="6" height="8" fill="#cfcfcf"/><rect x="1552" y="28" width="1" height="8" fill="#777"/><rect x="1553" y="28" width="5" height="1" fill="#888"/><rect x="1552" y="35" width="6" height="1" fill="#222"/><rect x="1551" y="38" width="7" height="2" fill="#111"/><rect x="1549" y="40" width="9" height="126" fill="#cdcdcd"/><rect x="1551" y="148" width="7" height="1" fill="#111"/><rect x="1548" y="166" width="10" height="3" fill="#333"/><rect x="1549" y="169" width="9" height="298" fill="#d6d6d6"/><path d="M1553 177.5L1556.5 174.5L1558 176M1553 179L1556.5 182L1558 180.5" fill="none" stroke="#111" stroke-width="1.2" shape-rendering="auto"/><path d="M1554.5 249.5L1558 248.5M1554.8 250V256L1553.3 258.5M1555 253H1558" fill="none" stroke="#111" stroke-width="1.3" shape-rendering="auto"/><path d="M1556 273.5L1554 277.5L1556.5 277L1554 281M1554.5 281.5V284.5M1557 279V284.5" fill="none" stroke="#a8a8a8" stroke-width="1.1" shape-rendering="auto"/><rect x="1553" y="301" width="5" height="12" fill="#111"/><rect x="1554" y="302" width="4" height="10" fill="#fff"/><rect x="1556" y="304" width="2" height="6" fill="#222"/><rect x="1553" y="321" width="5" height="15" fill="#f6f6f6"/><rect x="1554" y="322" width="4" height="13" fill="#dadada"/><path d="M1556 339.5L1558 339M1556.3 342V347.5M1556.5 344H1558" fill="none" stroke="#a8a8a8" stroke-width="1" shape-rendering="auto"/><rect x="1553" y="358" width="5" height="1" fill="#f2f2f2"/><path d="M1553.5 420L1558 419M1553 424H1558M1555.5 421V425L1553.5 429" fill="none" stroke="#b0b0b0" stroke-width="1" shape-rendering="auto"/><rect x="1553" y="439" width="5" height="1" fill="#f2f2f2"/><path d="M1553.5 451H1558M1558 452.5L1553.5 459" fill="none" stroke="#f0f0f0" stroke-width="1.1" shape-rendering="auto"/><rect x="1548" y="467" width="10" height="3" fill="#2e2e2e"/><rect x="1549" y="470" width="9" height="16" fill="#8f8f8f"/><rect x="1557" y="473" width="1" height="1" fill="#111"/><rect x="1549" y="486" width="9" height="2" fill="#e8e8e8"/><rect x="1550" y="488" width="8" height="33" fill="#ffffff"/><rect x="1551" y="488" width="7" height="1" fill="#111"/><rect x="1551" y="520" width="7" height="1" fill="#111"/><rect x="1555" y="493" width="1" height="15" fill="#777"/><rect x="1555" y="493" width="3" height="1" fill="#777"/><rect x="1553" y="508" width="5" height="6" fill="#777"/><rect x="1554" y="509" width="4" height="4" fill="#fff"/><path d="M1555.5 514.5H1558V518Z" fill="#111" shape-rendering="auto"/><rect x="1549" y="521" width="9" height="86" fill="#d2d2d2"/></g>
</svg></body></html>
